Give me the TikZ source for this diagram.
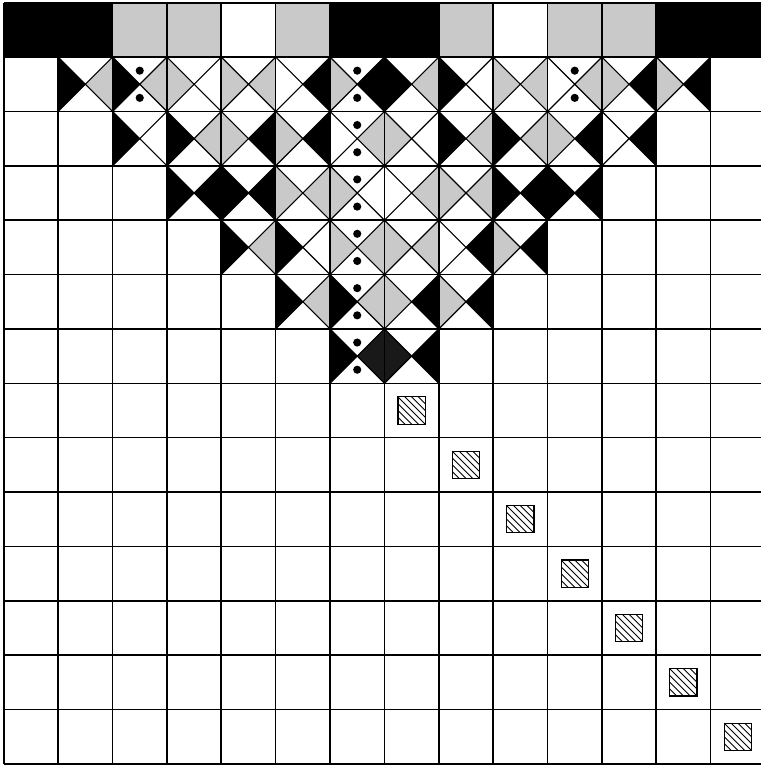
\documentclass[tikz,border=0pt]{standalone}
\usepackage{tikz}

\begin{document}
\begin{tikzpicture}[
    gridline/.style={draw=black, line width=0.85pt},
    diag/.style={draw=black, line width=0.6pt},
    blk/.style={fill=black},
    gry/.style={fill=black!21},
    drk/.style={fill=black!90},
    dotmark/.style={fill=black},
    hatchbox/.style={draw=black, line width=0.6pt},
    hatchline/.style={draw=black, line width=0.45pt}
]
    % Khung ảnh (lề trái/trên nhỏ, cột cuối bị cắt bên phải)
    \useasboundingbox (-0.07, -14.02) rectangle (13.92, 0.05);

    % Hàng trên cùng: ô màu (y từ -1 đến 0)
    \fill[blk] (0, -1) rectangle (2, 0);
    \fill[gry] (2, -1) rectangle (4, 0);
    \fill[gry] (5, -1) rectangle (6, 0);
    \fill[blk] (6, -1) rectangle (8, 0);
    \fill[gry] (8, -1) rectangle (9, 0);
    \fill[gry] (10, -1) rectangle (12, 0);
    \fill[blk] (12, -1) rectangle (14, 0);

    % Tam giác trái của ô (r, c): cạnh trái, đỉnh ở tâm ô
    \foreach \r/\c in {1/1, 1/2, 1/7, 1/8, 2/2, 2/3, 2/8, 2/9, 3/3, 3/4, 3/9, 3/10, 4/4, 4/5, 5/5, 5/6, 6/6}
        \fill[blk] (\c, -\r) -- (\c, -\r-1) -- (\c+.5, -\r-.5) -- cycle;
    \foreach \r/\c in {1/3, 1/4, 1/6, 1/9, 1/11, 1/12, 2/4, 2/5, 2/7, 2/10, 3/5, 3/6, 3/8, 4/6, 4/7, 4/9, 5/7, 5/8}
        \fill[gry] (\c, -\r) -- (\c, -\r-1) -- (\c+.5, -\r-.5) -- cycle;
    \fill[drk] (7, -6) -- (7, -7) -- (7.5, -6.5) -- cycle;

    % Tam giác phải của ô (r, c): cạnh phải, đỉnh ở tâm ô
    \foreach \r/\c in {1/5, 1/6, 1/11, 1/12, 2/4, 2/5, 2/10, 2/11, 3/3, 3/4, 3/9, 3/10, 4/8, 4/9, 5/7, 5/8, 6/7}
        \fill[blk] (\c+1, -\r) -- (\c+1, -\r-1) -- (\c+.5, -\r-.5) -- cycle;
    \foreach \r/\c in {1/1, 1/2, 1/4, 1/7, 1/9, 1/10, 2/3, 2/6, 2/8, 2/9, 3/5, 3/7, 3/8, 4/4, 4/6, 4/7, 5/5, 5/6}
        \fill[gry] (\c+1, -\r) -- (\c+1, -\r-1) -- (\c+.5, -\r-.5) -- cycle;
    \fill[drk] (7, -6) -- (7, -7) -- (6.5, -6.5) -- cycle;

    % Đường chéo trong tam giác ngược (hàng 1 đến 6)
    \foreach \r in {1,...,6} {
        \pgfmathtruncatemacro{\cmax}{13-\r}
        \foreach \c in {\r,...,\cmax}
            \draw[diag] (\c, -\r) -- (\c+1, -\r-1) (\c+1, -\r) -- (\c, -\r-1);
    }

    % Lưới 14 x 14
    \draw[gridline] (0, -14) grid (14, 0);

    % Chấm tròn (cột 6 và hàng 1)
    \foreach \r in {1,...,6}
        \fill[dotmark] (6.5, -\r-.25) circle (0.075) (6.5, -\r-.75) circle (0.075);
    \foreach \c in {2, 10}
        \fill[dotmark] (\c+.5, -1.25) circle (0.075) (\c+.5, -1.75) circle (0.075);

    % Ô vuông gạch chéo trên đường chéo (hàng 7 đến 13)
    \foreach \k in {7,...,13} {
        \begin{scope}
            \clip (\k+.25, -\k-.75) rectangle (\k+.75, -\k-.25);
            \foreach \i in {-3,...,3}
                \draw[hatchline] (\k+.1+\i*.0625, -\k-.1+\i*.0625) -- (\k+.9+\i*.0625, -\k-.9+\i*.0625);
        \end{scope}
        \draw[hatchbox] (\k+.25, -\k-.75) rectangle (\k+.75, -\k-.25);
    }
\end{tikzpicture}
\end{document}
